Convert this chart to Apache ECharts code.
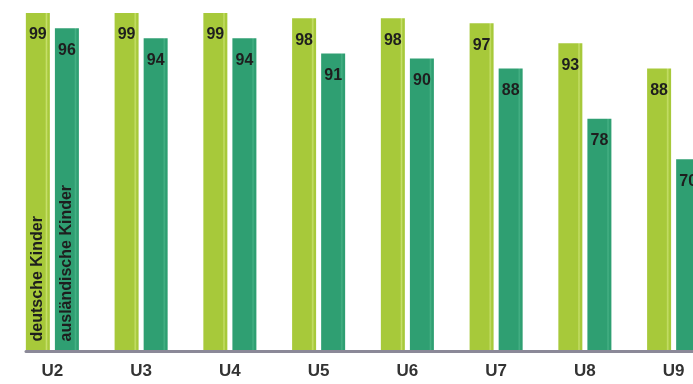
<!DOCTYPE html>
<html>
<head>
<meta charset="utf-8">
<script src="https://cdn.jsdelivr.net/npm/echarts@6/dist/echarts.min.js"></script>
<style>
  html, body { margin: 0; padding: 0; background: #fff; }
  #chart { width: 693px; height: 384px; }
</style>
</head>
<body>
<div id="chart"></div>
<script>
// Vorsorgeuntersuchungen U2 - U9, Teilnahme in %
var categories = ['U2', 'U3', 'U4', 'U5', 'U6', 'U7', 'U8', 'U9'];
var deutscheKinder = [99, 99, 99, 98, 98, 97, 93, 88];
var auslaendischeKinder = [96, 94, 94, 91, 90, 88, 78, 70];
var seriesNames = ['deutsche Kinder', 'ausländische Kinder'];

// Balkenfarben mit hellem Streifen rechts
function barColor(base, light) {
  return {
    type: 'linear', x: 0, y: 0, x2: 1, y2: 0,
    colorStops: [
      { offset: 0, color: base },
      { offset: 0.8, color: base },
      { offset: 0.86, color: light },
      { offset: 0.92, color: base },
      { offset: 1, color: base }
    ]
  };
}

var valueLabel = {
  show: true,
  position: 'insideTop',
  distance: 14,
  fontFamily: 'Liberation Sans, Arial, sans-serif',
  fontSize: 16,
  fontWeight: 'bold',
  color: '#1e1e1e'
};

// Serienname senkrecht im ersten Balken
function nameMark(name) {
  return {
    symbol: 'rect',
    symbolSize: 0,
    silent: true,
    label: {
      show: true,
      position: [0, 0],
      rotate: 90,
      align: 'left',
      verticalAlign: 'middle',
      fontFamily: 'Liberation Sans, Arial, sans-serif',
      fontSize: 16,
      fontWeight: 'bold',
      color: '#1e1e1e',
      formatter: '{b}'
    },
    data: [{ name: name, coord: [categories[0], 33.8] }]
  };
}

var chart = echarts.init(document.getElementById('chart'));
chart.setOption({
  animation: false,
  grid: [
    // rechter Rand abgeschnitten wie im Original
    { left: 8, right: -25, top: 0, height: 351, outerBoundsMode: 'none', containLabel: false },
    // nur fuer die Grundlinie, beginnt am ersten Balken
    { left: 26, right: 0, top: 0, height: 351, outerBoundsMode: 'none', containLabel: false }
  ],
  xAxis: [
    {
      type: 'category',
      data: categories,
      gridIndex: 0,
      axisLine: { show: false },
      axisTick: { show: false },
      axisLabel: {
        margin: 12,
        fontFamily: 'Liberation Sans, Arial, sans-serif',
        fontSize: 17,
        fontWeight: 'bold',
        color: '#333'
      }
    },
    {
      type: 'value',
      gridIndex: 1,
      z: 5,
      axisLine: { show: true, onZero: false, lineStyle: { color: '#8b8998', width: 3 } },
      axisTick: { show: false },
      axisLabel: { show: false },
      splitLine: { show: false }
    }
  ],
  yAxis: [
    {
      type: 'value',
      gridIndex: 0,
      min: 31.9,
      max: 101.6,
      show: false,
      splitLine: { show: false }
    },
    { type: 'value', gridIndex: 1, show: false }
  ],
  series: [
    {
      name: seriesNames[0],
      type: 'bar',
      data: deutscheKinder,
      barWidth: 24,
      barGap: '21%',
      itemStyle: { color: barColor('#a7c93a', '#c6df6a') },
      label: valueLabel,
      markPoint: nameMark(seriesNames[0])
    },
    {
      name: seriesNames[1],
      type: 'bar',
      data: auslaendischeKinder,
      barWidth: 24,
      barGap: '21%',
      itemStyle: { color: barColor('#2f9f72', '#45b084') },
      label: valueLabel,
      markPoint: nameMark(seriesNames[1])
    }
  ]
});
</script>
</body>
</html>
